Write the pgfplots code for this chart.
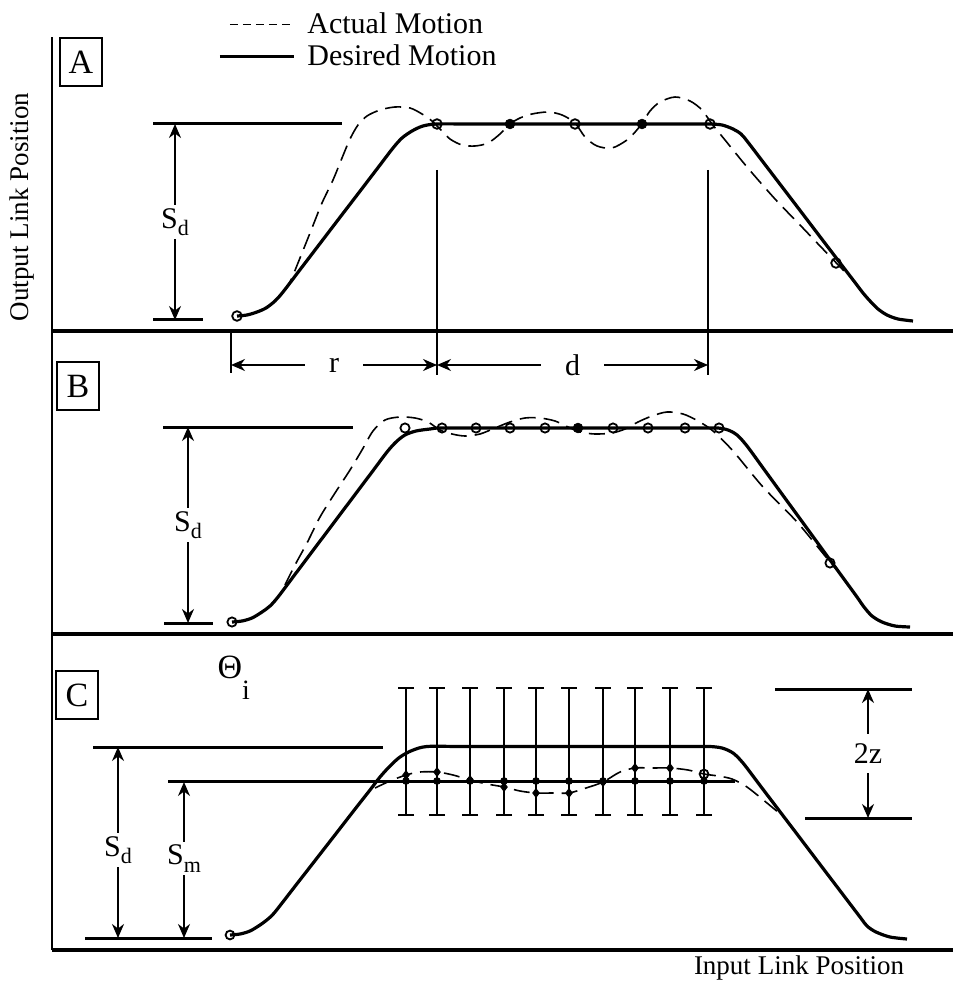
\documentclass[border=0pt]{standalone}
\usepackage{fontspec}
\setmainfont{Liberation Serif}
\usepackage{pgfplots}
\pgfplotsset{compat=1.18}
\usetikzlibrary{arrows.meta}

\tikzset{
  des/.style={line width=1.6pt, black},
  act/.style={line width=0.8pt, black, dash pattern=on 8pt off 4pt},
  thinl/.style={line width=0.6pt, black},
  dim/.style={line width=0.9pt, black, {Stealth[length=7pt,width=6pt]}-{Stealth[length=7pt,width=6pt]}},
  refl/.style={line width=1.5pt, black},
  lab/.style={font=\fontsize{15}{15}\selectfont, fill=white, inner sep=1.5pt},
  boxl/.style={draw, line width=0.9pt, minimum width=21pt, minimum height=24pt, inner sep=0pt, font=\fontsize{17}{17}\selectfont},
}
\newcommand{\Sd}{S\raisebox{-0.55ex}{\fontsize{11}{11}\selectfont d}}
\newcommand{\Sm}{S\raisebox{-0.55ex}{\fontsize{11}{11}\selectfont m}}

\pgfplotsset{
  panel/.style={x=0.5pt, y=0.5pt, xmin=52, xmax=953,
    axis x line=bottom, axis y line=left,
    axis line style={-},
    x axis line style={line width=1.6pt},
    y axis line style={line width=1.2pt},
    ticks=none, clip=false, anchor=north west},
}

\begin{document}
\begin{tikzpicture}
\useasboundingbox (0,0) rectangle (476.5pt,-491.5pt);

% ---------------- Panel A ----------------
\begin{axis}[panel, ymin=-331, ymax=-37, at={(26pt,-18.5pt)},
  legend style={at={(axis description cs:0.184,1.098)}, anchor=north west,
    draw=none, fill=none, font=\fontsize{15}{17}\selectfont,
    row sep=0pt, inner sep=0pt, nodes={inner sep=2pt}},
  legend cell align=left]
\addplot[act, smooth, legend image code/.code={\path (0,0); \draw[line width=0.8pt, dash pattern=on 4pt off 2.5pt] (5pt,0) -- (37pt,0); \path (41pt,0);}]
 coordinates {(283,-292)(290,-282)(300,-258)(312,-228)(322,-203)(333,-180)(342,-158)(350,-139)(358,-125)(367,-116)(380,-110)(395,-107)(410,-108)(422,-114)(432,-121)(440,-129)(450,-139)(462,-145)(475,-146)(488,-143)(500,-134)(510,-124)(520,-118)(532,-114)(548,-112)(562,-115)(575,-123)(585,-137)(597,-146)(612,-148)(627,-140)(636,-131)(643,-122)(650,-111)(660,-102)(675,-97)(690,-101)(702,-110)(712,-124)(725,-140)(747,-167)(775,-199)(800,-225)(820,-246)(845,-272)};
\addlegendentry{Actual Motion}
\addplot[des, smooth, legend image code/.code={\draw[line width=1.6pt] (0pt,0) -- (37pt,0); \path (41pt,0);}]
 coordinates {(237,-316)(247,-315)(257,-312)(266,-308)(275,-301)(283,-292)(300,-269.7)(320,-243.5)(340,-217.3)(360,-191.2)(380,-165)(393,-148)(402,-138)(412,-131)(423,-126)(437,-124)(470,-124)(510,-124)(550,-124)(590,-124)(630,-124)(670,-124)(698,-124)(710,-124)(722,-125)(733,-129)(741,-134)(747,-141)(760,-158)(780,-184.2)(800,-210.4)(820,-236.7)(840,-262.9)(855,-282.5)(863,-293)(870,-301)(878,-309)(887,-315)(898,-319)(913,-321)};
\addlegendentry{Desired Motion}
\addplot[only marks, mark=o, mark size=2.4pt, mark options={line width=0.9pt, fill=white}, forget plot]
 coordinates {(237,-316)(437,-124)(575,-124)(710,-124)(836,-263)};
\addplot[only marks, mark=*, mark size=2.4pt, forget plot]
 coordinates {(510,-124)(642,-124)};
% S_d
\draw[refl] (axis cs:153,-124) -- (axis cs:342,-124);
\draw[refl] (axis cs:153,-320) -- (axis cs:203,-320);
\draw[dim] (axis cs:175,-124) -- (axis cs:175,-320) node[lab, midway] {\Sd};
% r, d
\draw[thinl] (axis cs:437,-170) -- (axis cs:437,-375);
\draw[thinl] (axis cs:708,-170) -- (axis cs:708,-375);
\draw[thinl] (axis cs:231,-331) -- (axis cs:231,-373);
\draw[dim] (axis cs:231,-365) -- (axis cs:437,-365) node[lab, midway, inner xsep=12pt] {r};
\draw[dim] (axis cs:437,-365) -- (axis cs:708,-365) node[lab, midway, inner xsep=12pt] {d};
\node[boxl] at (axis cs:81,-62) {A};
\node[rotate=90, font=\fontsize{13.5}{14}\selectfont] at (axis cs:22,-207) {Output Link Position};
\end{axis}

% ---------------- Panel B ----------------
\begin{axis}[panel, ymin=-634, ymax=-331, at={(26pt,-165.5pt)}]
\addplot[act, smooth]
 coordinates {(285,-585)(295,-565)(307,-543)(320,-517)(335,-493)(350,-470)(362,-450)(373,-431)(385,-420)(400,-417)(415,-418)(428,-422)(440,-430)(452,-434)(465,-436)(480,-434)(495,-428)(510,-422)(525,-418)(540,-418)(555,-421)(568,-427)(580,-432)(595,-434)(612,-433)(625,-429)(638,-422)(652,-416)(667,-412)(683,-414)(698,-421)(713,-431)(733,-451)(763,-487)(797,-522)(830,-562)(840,-573)};
\addplot[des, smooth]
 coordinates {(232,-622)(242,-621)(252,-618)(262,-612)(270,-606)(278,-597)(295,-574.4)(315,-547.8)(335,-521.2)(355,-494.6)(372,-472)(387,-452)(396,-442)(405,-435)(416,-431)(430,-429)(440,-428)(480,-428)(520,-428)(560,-428)(600,-428)(640,-428)(680,-428)(708,-428)(718,-428)(728,-430)(737,-435)(747,-446)(765,-470.7)(785,-498.2)(805,-525.6)(825,-553.1)(845,-580.5)(857,-597)(864,-607)(872,-616)(882,-622)(895,-626)(910,-627)};
\addplot[only marks, mark=o, mark size=2.3pt, mark options={line width=0.9pt}]
 coordinates {(232,-622)(405,-428)(442,-428)(476,-428)(510,-428)(545,-428)(613,-428)(648,-428)(685,-428)(719,-428)(830,-563)};
\addplot[only marks, mark=*, mark size=2.4pt]
 coordinates {(578,-428)};
\draw[refl] (axis cs:163,-427) -- (axis cs:353,-427);
\draw[refl] (axis cs:164,-623) -- (axis cs:213,-623);
\draw[dim] (axis cs:188,-427) -- (axis cs:188,-623) node[lab, midway] {\Sd};
\node[boxl] at (axis cs:78,-386) {B};
\end{axis}

% ---------------- Panel C ----------------
\begin{axis}[panel, ymin=-950, ymax=-634, at={(26pt,-317pt)}]
\addplot[des, smooth]
 coordinates {(230,-935)(240,-934)(250,-931)(260,-925)(268,-919)(275,-912)(295,-886.3)(315,-860.6)(335,-834.9)(355,-809.1)(370,-790)(380,-777)(390,-766)(400,-757)(412,-750.5)(427,-746.5)(460,-746.5)(500,-746.5)(540,-746.5)(580,-746.5)(620,-746.5)(660,-746.5)(698,-746.5)(710,-746.5)(722,-748)(733,-753)(743,-763)(760,-785.4)(780,-811.7)(800,-838)(820,-864.4)(840,-890.7)(860,-917)(867,-926)(876,-932)(890,-937)(907,-939)};
\addplot[refl] coordinates {(168,-781)(735,-781)};
\addplot[draw=none, mark=none, forget plot,
  error bars/.cd, y dir=both, y explicit,
  error bar style={draw=black, line width=0.7pt},
  error mark options={draw=black, rotate=90, line width=1.4pt, mark size=4pt}]
 coordinates {(406,-751.5) +- (0,63.5) (437,-751.5) +- (0,63.5) (470,-751.5) +- (0,63.5) (504,-751.5) +- (0,63.5) (536,-751.5) +- (0,63.5) (569,-751.5) +- (0,63.5) (603,-751.5) +- (0,63.5) (635,-751.5) +- (0,63.5) (670,-751.5) +- (0,63.5) (704,-751.5) +- (0,63.5)};
\addplot[only marks, mark=*, mark size=1.7pt]
 coordinates {(406,-781)(437,-781)(470,-781)(504,-781)(536,-781)(569,-781)(603,-781)(635,-781)(670,-781)(704,-781)};
\addplot[act, smooth]
 coordinates {(375,-788)(390,-781)(406,-775)(420,-772)(437,-772)(453,-775)(470,-780)(487,-784)(504,-787)(520,-791)(536,-793)(553,-793)(569,-793)(586,-788)(603,-782)(620,-772)(635,-768)(652,-768)(670,-768)(688,-770)(704,-774)(718,-776)(732,-779)(747,-787)(767,-803)(785,-818)};
\addplot[only marks, mark=diamond*, mark size=2.2pt]
 coordinates {(406,-775)(437,-772)(470,-780)(504,-787)(536,-793)(569,-793)(603,-782)(635,-768)(670,-768)};
\addplot[only marks, mark=o, mark size=2.2pt, mark options={line width=0.9pt}]
 coordinates {(704,-774)(230,-935)};
% S_d and S_m
\draw[refl] (axis cs:93,-747) -- (axis cs:383,-747);
\draw[refl] (axis cs:85,-938) -- (axis cs:212,-938);
\draw[dim] (axis cs:118,-747) -- (axis cs:118,-938) node[lab, pos=0.54] {\Sd};
\draw[dim] (axis cs:184,-782) -- (axis cs:184,-938) node[lab, pos=0.49] {\Sm};
% 2z
\draw[refl] (axis cs:775,-689) -- (axis cs:912,-689);
\draw[refl] (axis cs:805,-818) -- (axis cs:912,-818);
\draw[dim] (axis cs:868,-689) -- (axis cs:868,-818) node[lab, midway, inner ysep=5pt] {2z};
\node[font=\fontsize{17}{17}\selectfont] at (axis cs:230,-667) {Θ};
\node[font=\fontsize{14}{14}\selectfont] at (axis cs:246,-690) {i};
\node[boxl] at (axis cs:77,-695) {C};
\node[font=\fontsize{13.5}{14}\selectfont] at (axis cs:799,-968) {Input Link Position};
\end{axis}
\end{tikzpicture}
\end{document}
